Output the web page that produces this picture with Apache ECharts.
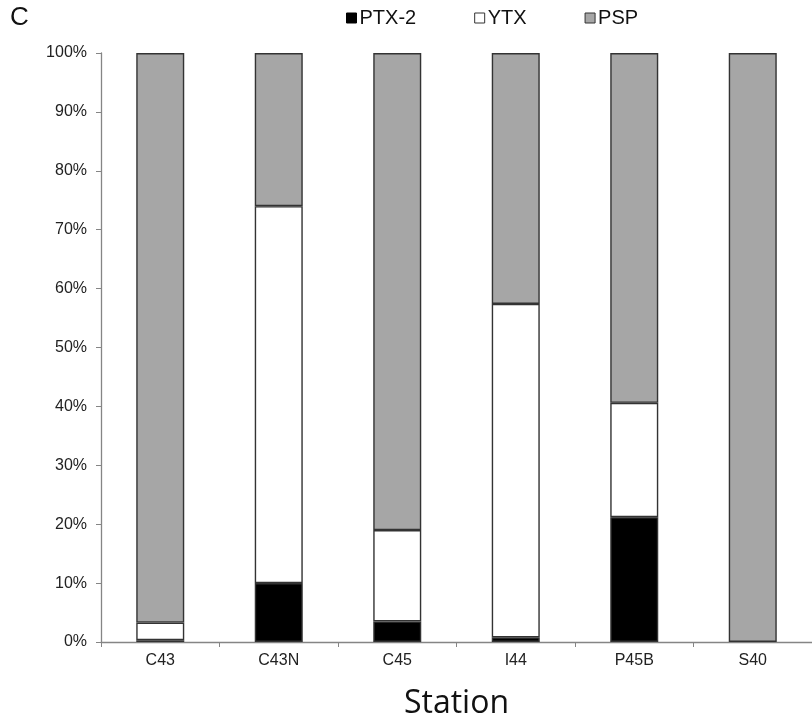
<!DOCTYPE html>
<html>
<head>
<meta charset="utf-8">
<script src="https://cdn.jsdelivr.net/npm/echarts@6/dist/echarts.min.js"></script>
<style>html,body{margin:0;padding:0;background:#fff}#c{width:812px;height:725px}</style>
</head>
<body>
<div id="c"></div>
<script>
const stations = ['C43', 'C43N', 'C45', 'I44', 'P45B', 'S40'];
const ptx2 = [0.3, 10.0, 3.5, 0.8, 21.2, 0];
const ytx = [3.0, 64.0, 15.5, 56.6, 19.4, 0];
const psp = [96.7, 26.0, 81.0, 42.6, 59.4, 100];
const yTicks = [0, 10, 20, 30, 40, 50, 60, 70, 80, 90, 100];

const chart = echarts.init(document.getElementById('c'), null, {renderer: 'canvas'});
const border = {borderColor: '#333', borderWidth: 1.4};
function mk(name, data, color) {
  return {
    name, type: 'bar', stack: 'a',
    data: data.map(v => v === 0 ? '-' : v),
    barWidth: 48,
    itemStyle: Object.assign({color}, border),
    emphasis: {disabled: true}
  };
}
chart.setOption({
  animation: false,
  textStyle: {fontFamily: 'Liberation Sans'},
  graphic: [{
    type: 'text', left: 10, top: 5,
    style: {text: 'C', font: '26px "Liberation Sans"', fill: '#111'}
  }],
  legend: {
    left: 346, top: 8, padding: 0,
    itemWidth: 10, itemHeight: 10, itemGap: 58,
    icon: 'rect',
    textStyle: {fontSize: 20, color: '#111', fontFamily: 'Liberation Sans', padding: [0, 0, 0, -2]},
    data: [
      {name: 'PTX-2', itemStyle: {color: '#000', borderColor: '#000', borderWidth: 1}},
      {name: 'YTX', itemStyle: {color: '#fff', borderColor: '#333', borderWidth: 1}},
      {name: 'PSP', itemStyle: {color: '#a6a6a6', borderColor: '#333', borderWidth: 1}}
    ]
  },
  grid: {left: 101, top: 53, bottom: 72, right: -10, containLabel: false},
  xAxis: {
    type: 'category', data: stations,
    name: 'Station', nameLocation: 'middle', nameGap: 46,
    nameTextStyle: {fontFamily: 'Open Sans', fontSize: 32, color: '#111'},
    axisLine: {lineStyle: {color: '#858585', width: 1.3}},
    axisTick: {show: true, length: 5, lineStyle: {color: '#858585'}},
    axisLabel: {fontSize: 16, color: '#222', margin: 11}
  },
  yAxis: {
    type: 'value', min: 0, max: 100, interval: 10,
    axisLine: {show: true, lineStyle: {color: '#858585', width: 1.3}},
    axisTick: {show: true, length: 5, lineStyle: {color: '#858585'}},
    splitLine: {show: false},
    axisLabel: {
      fontSize: 16, color: '#222', margin: 14,
      formatter: v => yTicks.includes(v) ? v + '%' : ''
    }
  },
  series: [
    mk('PTX-2', ptx2, '#000000'),
    mk('YTX', ytx, '#ffffff'),
    mk('PSP', psp, '#a6a6a6')
  ]
});
</script>
</body>
</html>
